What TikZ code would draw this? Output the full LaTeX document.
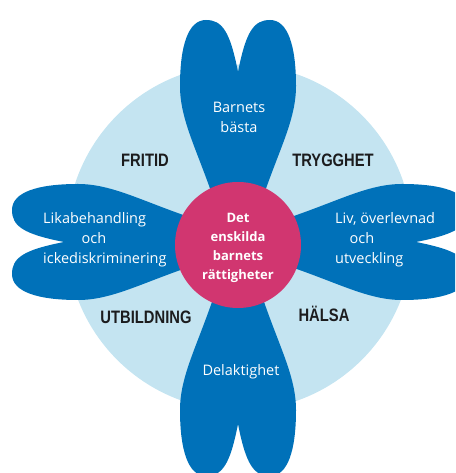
\documentclass[tikz,border=0pt]{standalone}
\usepackage{fontspec}
\setmainfont{Open Sans}
\newfontfamily\catfont[FakeStretch=0.82]{Liberation Sans}
\definecolor{petalblue}{RGB}{0,113,185}
\definecolor{lightring}{RGB}{196,228,241}
\definecolor{corepink}{RGB}{209,54,112}
\definecolor{catgray}{RGB}{28,28,30}
\tikzset{
  petal/.style={fill=petalblue},
  ptext/.style={text=white, font=\fontsize{14.5}{20}\selectfont, inner sep=0pt, align=center},
  ctext/.style={text=white, font=\fontsize{13}{19}\selectfont\bfseries, inner sep=0pt, align=center, anchor=base},
  cat/.style={text=catgray, font=\catfont\bfseries\fontsize{18}{20}\selectfont, inner sep=0pt, anchor=base},
}
\begin{document}
\begin{tikzpicture}[x=1pt,y=1pt]
\useasboundingbox (0,0) rectangle (455,473);
\clip (0,0) rectangle (455,473);
% light ring
\fill[lightring] (239.5,235.5) circle[radius=173pt];
% petals
\foreach \ang/\sh in {90/-4,180/0,0/4,270/8}{
  \fill[petal, shift={(238,231)}, rotate=\ang, xshift=\sh]
    (40,22) .. controls (95,40) and (125,58) .. (160,58)
    .. controls (200,58) and (226,50) .. (226,32)
    .. controls (226,16) and (215,8) .. (174,0)
    .. controls (215,-8) and (226,-16) .. (226,-32)
    .. controls (226,-50) and (200,-58) .. (160,-58)
    .. controls (125,-58) and (95,-40) .. (40,-22) -- cycle;
}
% core
\fill[corepink] (238,228) circle[radius=63pt];
% core text (base = baseline of last line)
\node[ctext] (core) at (238,193) {Det\\enskilda\\barnets\\rättigheter};
% petal texts
\node[ptext, anchor=base] (best) at (239,340) {Barnets\\bästa};
\node[ptext, anchor=base] (part) at (241,97) {Delaktighet};
\node[ptext, anchor=base west] (lik) at (43,249) {Likabehandling};
\node[ptext, anchor=base] (loch) at (94,229) {och};
\node[ptext, anchor=base west] (icke) at (43,209) {ickediskriminering};
\node[ptext, anchor=base west] (liv) at (335,249) {Liv, överlevnad};
\node[ptext, anchor=base] (roch) at (362,229) {och};
\node[ptext, anchor=base west] (utv) at (335,209) {utveckling};
% categories
\node[cat] (fritid) at (145,306) {FRITID};
\node[cat] (trygg) at (333,306) {TRYGGHET};
\node[cat] (utb) at (146,149) {UTBILDNING};
\node[cat] (halsa) at (324,151) {HÄLSA};
\end{tikzpicture}
\end{document}
